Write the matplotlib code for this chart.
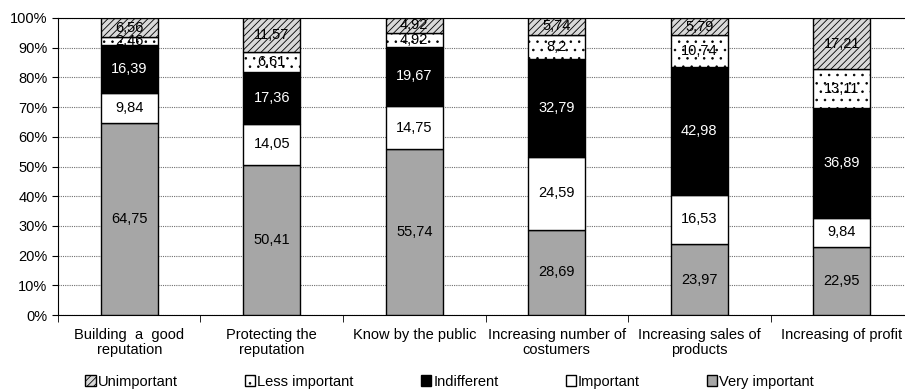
import matplotlib.pyplot as plt
import numpy as np

plt.rcParams['font.family'] = ['Liberation Sans', 'DejaVu Sans']
plt.rcParams['hatch.linewidth'] = 0.6
plt.rcParams['hatch.color'] = '#303030'

# Données
categories = ["Building  a  good\nreputation", "Protecting the\nreputation", "Know by the public",
              "Increasing number of\ncostumers", "Increasing sales of\nproducts", "Increasing of profit"]
very_important = [64.75, 50.41, 55.74, 28.69, 23.97, 22.95]
important = [9.84, 14.05, 14.75, 24.59, 16.53, 9.84]
indifferent = [16.39, 17.36, 19.67, 32.79, 42.98, 36.89]
less_important = [2.46, 6.61, 4.92, 8.2, 10.74, 13.11]
unimportant = [6.56, 11.57, 4.92, 5.74, 5.79, 17.21]

series = [
    ("Very important", very_important, "#a6a6a6", None, "black"),
    ("Important", important, "white", None, "black"),
    ("Indifferent", indifferent, "black", None, "white"),
    ("Less important", less_important, "white", "..", "black"),
    ("Unimportant", unimportant, "#d9d9d9", "/////", "black"),
]

fig = plt.figure(figsize=(9.05, 3.9), dpi=100)
ax = fig.add_axes([0.064, 0.192, 0.945, 0.762])

x = np.arange(len(categories))
bottom = np.zeros(len(categories))
handles = {}
for name, vals, col, hatch, tcol in series:
    vals = np.array(vals)
    bars = ax.bar(x, vals, width=0.4, bottom=bottom, color=col, edgecolor="black",
                  linewidth=1.0, hatch=hatch, zorder=3)
    handles[name] = bars
    for xi, v, b in zip(x, vals, bottom):
        ax.text(xi, b + v / 2, str(v).replace(".", ","), ha="center", va="center",
                fontsize=10.5, color=tcol, zorder=4)
    bottom += vals

ax.set_xlim(-0.5, len(categories) - 0.5)
ax.set_ylim(0, 100)
ax.set_yticks(np.arange(0, 101, 10))
ax.set_yticklabels([f"{v}%" for v in range(0, 101, 10)], fontsize=10.5)
ax.set_xticks(x)
ax.set_xticklabels(categories, fontsize=10.5, linespacing=1.15)
ax.tick_params(axis="x", which="major", length=0, pad=9)
ax.set_xticks(np.arange(-0.5, len(categories), 1), minor=True)
ax.tick_params(axis="x", which="minor", length=5, direction="out")
ax.tick_params(axis="y", length=4, direction="out")
ax.grid(axis="y", linestyle=(0, (1, 1)), color="#707070", linewidth=0.8, zorder=0)
ax.spines["right"].set_visible(False)

order = ["Unimportant", "Less important", "Indifferent", "Important", "Very important"]
fig.legend([handles[n] for n in order], order, loc="lower center", ncol=5, frameon=False,
           bbox_to_anchor=(0.497, -0.03), fontsize=10.5, handlelength=0.7, handleheight=0.7,
           handletextpad=0.15, columnspacing=4.6)

fig.savefig("out.png", dpi=100)
